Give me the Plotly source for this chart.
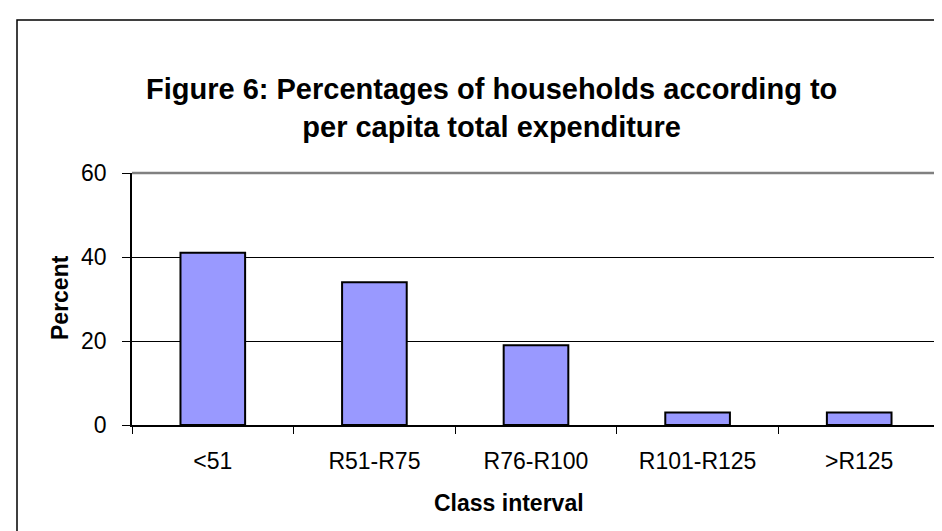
import plotly.graph_objects as go

categories = ["<51", "R51-R75", "R76-R100", "R101-R125", ">R125"]
percent = [41, 34, 19, 3, 3]
y_ticks = [0, 20, 40, 60]

W, H = 942, 531
L, R, T, B = 124, 10, 165, 114
pw, ph = W - L - R, H - T - B

def px(x):
    return (x - L) / pw

def py(y):
    return (H - B - y) / ph

FONT = "Liberation Sans, Arial, sans-serif"

fig = go.Figure(go.Bar(
    x=categories, y=percent,
    marker=dict(color="#9999FF", line=dict(color="black", width=2)),
    width=0.4,
))

fig.update_layout(
    width=W, height=H,
    margin=dict(l=L, r=R, t=T, b=B),
    paper_bgcolor="white", plot_bgcolor="white",
    showlegend=False,
    font=dict(family=FONT, color="black", size=23),
    xaxis=dict(
        tickson="boundaries", ticks="outside", ticklen=7, tickcolor="black",
        showline=True, linecolor="black", linewidth=1.5,
        showgrid=False, tickfont=dict(size=23), ticklabelstandoff=15,
    ),
    yaxis=dict(
        range=[0, 60], tickvals=y_ticks, ticks="outside", ticklen=8,
        tickcolor="black", showline=True, linecolor="black", linewidth=1.5,
        showgrid=True, gridcolor="black", gridwidth=1, zeroline=False,
        tickfont=dict(size=23), ticklabelstandoff=11,
    ),
    shapes=[
        dict(type="line", xref="paper", yref="paper", x0=0, x1=1, y0=1, y1=1,
             line=dict(color="#808080", width=2.5)),
        dict(type="line", xref="paper", yref="paper", x0=1, x1=1, y0=0, y1=1,
             line=dict(color="#808080", width=2.5)),
        dict(type="rect", xref="paper", yref="paper",
             x0=px(9), x1=px(960), y0=py(12), y1=py(560),
             line=dict(color="black", width=1.5)),
    ],
    annotations=[
        dict(text="<b>Figure 6: Percentages of households according to<br>per capita total expenditure</b>",
             xref="paper", yref="paper", x=px(483), y=py(100),
             xanchor="center", yanchor="middle", showarrow=False,
             font=dict(size=29, family=FONT)),
        dict(text="<b>Class interval</b>", xref="paper", yref="paper",
             x=px(501), y=py(495), xanchor="center", yanchor="middle",
             showarrow=False, font=dict(size=23, family=FONT)),
        dict(text="<b>Percent</b>", xref="paper", yref="paper",
             x=px(52), y=py(290), xanchor="center", yanchor="middle",
             textangle=-90, showarrow=False, font=dict(size=23, family=FONT)),
    ],
)

fig.write_html("out.html")
